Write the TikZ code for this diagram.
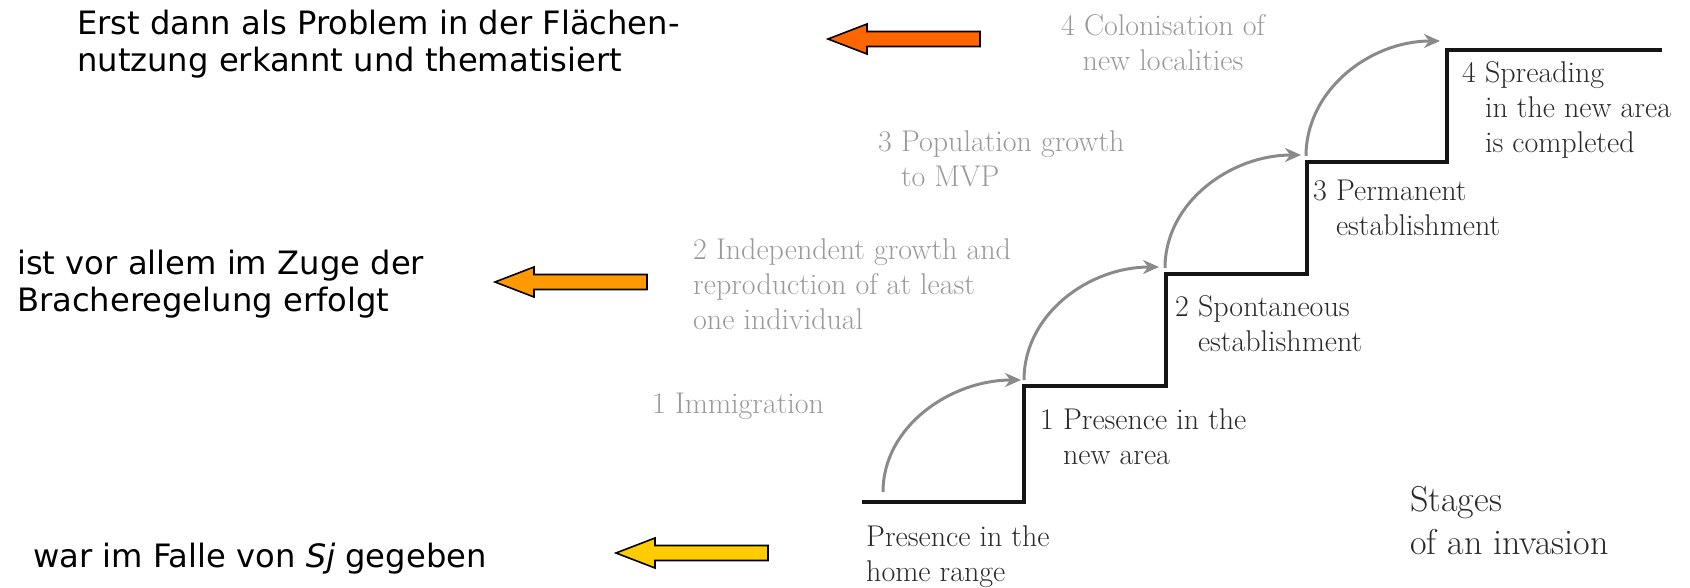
\documentclass[tikz,border=0pt]{standalone}
\usepackage{fontspec}
\newfontfamily\vfont{DejaVu Sans}
\usetikzlibrary{arrows.meta,calc}
\definecolor{redorange}{HTML}{FF6600}
\definecolor{orangeA}{HTML}{FF9900}
\definecolor{yellowA}{HTML}{FFCC00}
\definecolor{lightgr}{HTML}{9A9A9A}
\definecolor{arcgr}{HTML}{8A8A8A}
\definecolor{darktx}{HTML}{2A2A2A}
\definecolor{stairc}{HTML}{151515}
\newcommand\BlockArrow[2]{%
  \draw[blockarrow, fill=#2] (#1) -- ++(39,-15) -- ++(0,7.5) -- ++(113,0) -- ++(0,15) -- ++(-113,0) -- ++(0,7.5) -- cycle;}
\begin{document}
\begin{tikzpicture}[x=1pt,y=-1pt,
  blockarrow/.style={draw=black, line width=1.6pt, line join=miter},
  german/.style={anchor=base west, inner sep=0pt, align=left, text=black,
     font={\vfont\fontsize{32.2}{37}\selectfont}},
  graylbl/.style={anchor=base west, inner sep=0pt, align=left, text=lightgr,
     font={\fontsize{30}{35}\selectfont}},
  darklbl/.style={anchor=base west, inner sep=0pt, align=left, text=darktx,
     font={\fontsize{30}{35}\selectfont}},
  stair/.style={draw=stairc, line width=4.5pt, line join=miter, line cap=butt},
  grayarc/.style={draw=arcgr, line width=3pt, -{Stealth[length=16pt,width=14pt]}}]
\useasboundingbox (0,0) rectangle (1690,588);
% left German texts (base = baseline of last line)
\node[german] (g1) at (77,72) {Erst dann als Problem in der Flächen-\\nutzung erkannt und thematisiert};
\node[german] (g2) at (17,312) {ist vor allem im Zuge der\\Bracheregelung erfolgt};
\node[german] (g3) at (33,567) {war im Falle von \textit{Sj} gegeben};
% block arrows
\coordinate (tipA) at (828,39);
\coordinate (tipB) at (495,282);
\coordinate (tipC) at (616,553);
\BlockArrow{tipA}{redorange}
\BlockArrow{tipB}{orangeA}
\BlockArrow{tipC}{yellowA}
% staircase
\coordinate (s0) at (862,502);
\coordinate (c1) at (1024,386);
\coordinate (c2) at (1166,274);
\coordinate (c3) at (1307,162);
\coordinate (c4) at (1447,50);
\coordinate (se) at (1662,50);
\draw[stair] (s0) -| (c1) -| (c2) -| (c3) -| (c4) -- (se);
% gray arrows
\coordinate (a1s) at (883,492);
\coordinate (a1e) at (1021,380);
\coordinate (a2s) at (1024,380);
\coordinate (a2e) at (1159,267);
\coordinate (a3s) at (1165,268);
\coordinate (a3e) at (1301,155);
\coordinate (a4s) at (1306,156);
\coordinate (a4e) at (1440,41);
\draw[grayarc] (a1s) .. controls +(0,-66) and +(-70,0) .. (a1e);
\draw[grayarc] (a2s) .. controls +(0,-66) and +(-70,0) .. (a2e);
\draw[grayarc] (a3s) .. controls +(0,-66) and +(-70,0) .. (a3e);
\draw[grayarc] (a4s) .. controls +(0,-66) and +(-70,0) .. (a4e);
% gray process labels
\node[graylbl] (p1) at (652,413) {1 Immigration};
\node[graylbl] (p2) at (693,329) {2 Independent growth and\\reproduction of at least\\one individual};
\node[graylbl] (p3) at (878,187) {3 Population growth\\\phantom{3 }to MVP};
\node[graylbl, anchor=base, align=center] (p4) at (1163,71) {4 Colonisation of\\new localities};
% dark stage labels
\node[darklbl] (l0) at (866,581) {Presence in the\\home range};
\node[darklbl] (l1) at (1040,464) {1 Presence in the\\\phantom{1 }new area};
\node[darklbl] (l2) at (1175,351) {2 Spontaneous\\\phantom{2 }establishment};
\node[darklbl] (l3) at (1313,236) {3 Permanent\\\phantom{3 }establishment};
\node[darklbl] (l4) at (1462,153) {4 Spreading\\\phantom{4 }in the new area\\\phantom{4 }is completed};
\node[darklbl, font={\fontsize{36}{43}\selectfont}] (st) at (1410,554) {Stages\\of an invasion};
\end{tikzpicture}
\end{document}
